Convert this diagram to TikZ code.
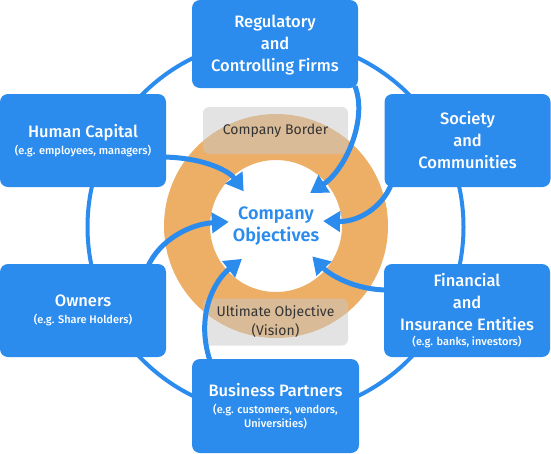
\documentclass[tikz,border=0pt]{standalone}
\usepackage{fontspec}
\setmainfont{Fira Sans}
\IfFontExistsTF{Fira Sans Medium}{\newfontfamily\semib{Fira Sans Medium}}{\newfontfamily\semib{Fira Sans}[FakeBold=1.2]}
\IfFontExistsTF{Fira Sans SemiBold}{\newfontfamily\boldf{Fira Sans SemiBold}}{\newfontfamily\boldf{Fira Sans Bold}}
\usetikzlibrary{arrows.meta}
\definecolor{myblue}{RGB}{43,140,238}
\definecolor{myorange}{RGB}{237,174,102}
\definecolor{mygray}{RGB}{200,200,200}
\definecolor{mytext}{RGB}{51,51,51}
\newcommand\titlefnt{\semib\fontsize{16.5}{22}\selectfont}
\newcommand\subfnt{\semib\fontsize{11}{14}\selectfont}
\tikzset{
  bluebox/.style={fill=myblue, rounded corners=8pt, minimum width=166pt, minimum height=93pt, text=white, align=center, font=\titlefnt, inner sep=0pt},
  graybox/.style={fill=mygray, fill opacity=0.5, text opacity=1, rounded corners=6pt, minimum width=145pt, minimum height=47pt, text=mytext, align=center, font=\fontsize{14}{19}\selectfont, inner sep=0pt},
  arr/.style={draw=myblue, line width=5pt, -{Triangle[length=17pt,width=20pt]}},
}
\begin{document}
\begin{tikzpicture}[x=1pt,y=-1pt]
\useasboundingbox (0,0) rectangle (551,453);
% outer blue ring
\draw[myblue, line width=4pt] (275.5,227) circle[radius=188];
% orange ring
\fill[myorange, even odd rule] (276,226) circle[radius=112] (276,226) circle[radius=66];
% gray boxes
\node[graybox] (border) at (275.5,130.5) {Company Border};
\node[graybox] (vision) at (275.5,322) {Ultimate Objective\\(Vision)};
% centre
\node[circle, minimum size=88pt, inner sep=0pt, text=myblue, align=center, font=\boldf\fontsize{18}{22}\selectfont] (obj) at (276,226) {Company\\Objectives};
% boxes
\node[bluebox, minimum height=88pt] (reg) at (275,44) {\strut Regulatory\\and\\Controlling Firms};
\node[bluebox] (hc) at (83,140.5) {Human Capital\\[-5pt]{\subfnt (e.g. employees, managers)}};
\node[bluebox] (soc) at (467.5,140.5) {Society\\and\\Communities};
\node[bluebox] (own) at (83,310.5) {Owners\\[-5pt]{\subfnt (e.g. Share Holders)}};
\node[bluebox] (fin) at (467,310.5) {Financial\\and\\Insurance Entities\\[-7pt]{\subfnt (e.g. banks, investors)}};
\node[bluebox, minimum height=94pt, minimum width=167pt] (bp) at (275.5,406) {Business Partners\\[-5pt]{\subfnt (e.g. customers, vendors,}\\[-8pt]{\subfnt Universities)}};
% arrows
\draw[arr] ([xshift=-6pt,yshift=-16.5pt]hc.east) .. controls (205,157) and (230,172) .. (obj.133);
\draw[arr] ([xshift=80pt,yshift=2pt]reg.south) .. controls (368,120) and (345,170) .. (obj.44);
\draw[arr] ([xshift=8pt,yshift=6pt]soc.south west) .. controls (385,205) and (360,222) .. (obj.6);
\draw[arr] ([xshift=4pt,yshift=20.5pt]fin.west) .. controls (355,290) and (330,275) .. (obj.-40);
\draw[arr] ([xshift=-18pt,yshift=-2pt]own.north east) .. controls (160,240) and (190,224) .. (obj.175);
\draw[arr] ([xshift=-65.5pt,yshift=-2pt]bp.north) .. controls (195,315) and (215,280) .. (obj.224);
\end{tikzpicture}
\end{document}
